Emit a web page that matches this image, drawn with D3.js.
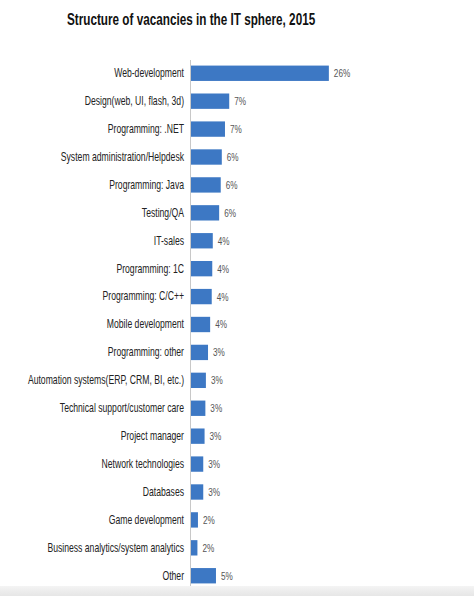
<!DOCTYPE html>
<html>
<head>
<meta charset="utf-8">
<script src="https://cdn.jsdelivr.net/npm/d3@7"></script>
<style>
  body { margin: 0; background: #fff; }
  text { font-family: "Liberation Sans", Arial, sans-serif; }
</style>
</head>
<body>
<svg id="chart"></svg>
<script>
const svg_w = 474;
const svg_h = 596;

const margin = {l:190, r:125, t:60, b:7}
const viz_w = svg_w - margin.l - margin.r;
const viz_h = svg_h - margin.t - margin.b;

// categorías (de arriba hacia abajo)
const categories = [
  "Web-development",
  "Design(web, UI, flash, 3d)",
  "Programming: .NET",
  "System administration/Helpdesk",
  "Programming: Java",
  "Testing/QA",
  "IT-sales",
  "Programming: 1C",
  "Programming: C/C++",
  "Mobile development",
  "Programming: other",
  "Automation systems(ERP, CRM, BI, etc.)",
  "Technical support/customer care",
  "Project manager",
  "Network technologies",
  "Databases",
  "Game development",
  "Business analytics/system analytics",
  "Other"
];
// longitud estimada de cada barra (%)
const values = [26.2, 7.4, 6.6, 6.0, 5.8, 5.5, 4.3, 4.2, 4.1, 3.8, 3.4, 3.0, 2.9, 2.75, 2.5, 2.5, 1.5, 1.4, 4.9];
// etiquetas que muestra el gráfico
const value_labels = ["26%", "7%", "7%", "6%", "6%", "6%", "4%", "4%", "4%", "4%", "3%", "3%", "3%", "3%", "3%", "3%", "2%", "2%", "5%"];

const data = categories.map((c, i) => ({label: c, value: values[i], text: value_labels[i]}));

// la fuente original es estrecha: se comprime en horizontal
const narrow = 0.72;

let svg = d3.select("#chart")
  .attr("width", svg_w)
  .attr("height", svg_h)

svg.append("text")
  .attr("transform", `scale(0.69,1)`)
  .attr("x", 67 / 0.69)
  .attr("y", 25)
  .attr("font-size", 17)
  .attr("font-weight", "bold")
  .attr("fill", "#111")
  .text("Structure of vacancies in the IT sphere, 2015")

let x_scale = d3.scaleLinear()
  .domain([0, 30])
  .range([0, 159])

let y_scale = d3.scaleBand()
  .domain(categories)
  .range([0, viz_h])
  .paddingInner(0.45)
  .paddingOuter(0.2)

let g = svg.append("g")
  .attr("transform", `translate(${margin.l},${margin.t})`)

g.selectAll("rect")
  .data(data)
  .enter()
  .append("rect")
  .attr("x", 0)
  .attr("y", d => y_scale(d.label))
  .attr("width", d => x_scale(d.value))
  .attr("height", y_scale.bandwidth())
  .attr("fill", "#3d78c4")

let y_axis = g.append("g")
  .call(d3.axisLeft(y_scale).tickSize(0).tickPadding(6))

y_axis.select(".domain")
  .attr("stroke", "#c8c8c8")
  .attr("d", `M0.5,0V${viz_h}`)

y_axis.selectAll("text")
  .attr("font-size", 12)
  .attr("fill", "#222")
  .attr("x", -6 / narrow)
  .attr("transform", `scale(${narrow},1)`)

g.selectAll(".val")
  .data(data)
  .enter()
  .append("text")
  .attr("class", "val")
  .attr("transform", `scale(0.78,1)`)
  .attr("x", d => (x_scale(d.value) + 5) / 0.78)
  .attr("y", d => y_scale(d.label) + y_scale.bandwidth() / 2 + 4)
  .attr("font-size", 10.5)
  .attr("fill", "#555")
  .text(d => d.text)

// sombra gris al pie
let grad = svg.append("defs").append("linearGradient")
  .attr("id", "shade").attr("x1", 0).attr("y1", 0).attr("x2", 0).attr("y2", 1)
grad.append("stop").attr("offset", "0%").attr("stop-color", "#f4f4f4")
grad.append("stop").attr("offset", "100%").attr("stop-color", "#e6e6e6")
svg.append("rect")
  .attr("x", 0).attr("y", 586)
  .attr("width", svg_w).attr("height", 10)
  .attr("fill", "url(#shade)")
</script>
</body>
</html>
